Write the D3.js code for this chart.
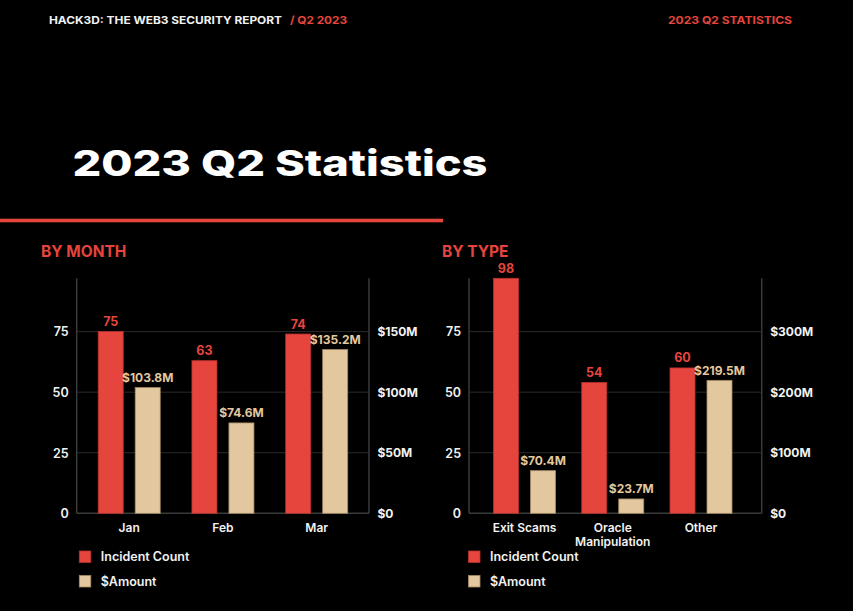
<!DOCTYPE html>
<html>
<head>
<meta charset="utf-8">
<script src="https://cdn.jsdelivr.net/npm/d3@7"></script>
<style>
  html, body { margin: 0; padding: 0; background: #000; }
  svg { display: block; font-family: Inter, "Noto Sans", sans-serif; }
</style>
</head>
<body>
<svg id="chart" width="853" height="611"></svg>
<script>
// ---------- data ----------
const monthCategories = ["Jan", "Feb", "Mar"];
const monthIncidents = [75, 63, 74];
const monthAmounts = [103.8, 74.6, 135.2]; // $M

const typeCategories = [["Exit Scams"], ["Oracle", "Manipulation"], ["Other"]];
const typeIncidents = [98, 54, 60];
const typeAmounts = [70.4, 23.7, 219.5]; // $M

const countTicks = [0, 25, 50, 75];
const monthAmountTicks = [0, 50, 100, 150];
const typeAmountTicks = [0, 100, 200, 300];

const seriesNames = ["Incident Count", "$Amount"];

// ---------- styles ----------
const RED = "#E5453D", RED_STROKE = "#B8322C";
const TAN = "#E3C89F", TAN_STROKE = "#A48A62";
const WHITE = "#F2F2F2";

const svg = d3.select("#chart");
svg.append("rect").attr("width", 853).attr("height", 611).attr("fill", "#000");

// header
svg.append("text").attr("x", 49).attr("y", 24.3)
  .attr("fill", WHITE).attr("font-size", 10.8).attr("font-weight", 700)
  .attr("textLength", 233).attr("lengthAdjust", "spacingAndGlyphs")
  .text("HACK3D: THE WEB3 SECURITY REPORT");
svg.append("text").attr("x", 290).attr("y", 24.3)
  .attr("fill", RED).attr("font-size", 10.8).attr("font-weight", 700)
  .attr("textLength", 57).attr("lengthAdjust", "spacingAndGlyphs")
  .text("/ Q2 2023");
svg.append("text").attr("x", 668).attr("y", 24.3)
  .attr("fill", RED).attr("font-size", 10.8).attr("font-weight", 700)
  .attr("textLength", 124).attr("lengthAdjust", "spacingAndGlyphs")
  .text("2023 Q2 STATISTICS");

// title
svg.append("text").attr("x", 72.5).attr("y", 175.7)
  .attr("fill", "#FFFFFF").attr("font-size", 35.5).attr("font-weight", 800)
  .attr("textLength", 415).attr("lengthAdjust", "spacingAndGlyphs")
  .text("2023 Q2 Statistics");
svg.append("rect").attr("x", 0).attr("y", 218.7).attr("width", 443).attr("height", 3.6).attr("fill", RED);

function drawChart(opt) {
  const g = svg.append("g");
  const top = 278.3, bottom = 513.3;
  const yCount = d3.scaleLinear().domain([0, 97]).range([bottom, top]).clamp(true);
  const yAmt = d3.scaleLinear().domain([0, opt.amountMax]).range([bottom, top]).clamp(true);
  const x = d3.scalePoint().domain(d3.range(opt.categories.length))
    .range([opt.left + opt.insetL, opt.right - opt.insetR]);
  const sub = d3.scaleBand().domain([0, 1]).range([-31, 31]).paddingInner(0.324);

  // section title
  g.append("text").attr("x", opt.titleX).attr("y", 257)
    .attr("fill", RED).attr("font-size", 15.5).attr("font-weight", 700)
    .text(opt.title);

  // gridlines
  g.selectAll(".grid").data(countTicks.filter(d => d > 0)).join("line")
    .attr("x1", opt.left).attr("x2", opt.right)
    .attr("y1", d => yCount(d)).attr("y2", d => yCount(d))
    .attr("stroke", "#2a2a2a").attr("stroke-width", 1);

  // left axis
  const axL = g.append("g").attr("transform", `translate(${opt.left},0)`)
    .call(d3.axisLeft(yCount).tickValues(countTicks).tickSize(0).tickPadding(8));
  axL.select(".domain").attr("stroke", "#3a3a3a").attr("stroke-width", 1.5)
    .attr("d", `M0,${top}V${bottom}`);
  axL.selectAll("text").attr("fill", WHITE).attr("font-size", 12.5).attr("font-weight", 600)
    .attr("font-family", "Inter, sans-serif").attr("dy", "0.35em");

  // right axis
  const axR = g.append("g").attr("transform", `translate(${opt.right},0)`)
    .call(d3.axisRight(yAmt).tickValues(opt.amountTicks).tickSize(0).tickPadding(8.5)
      .tickFormat(d => d === 0 ? "$0" : `$${d}M`));
  axR.select(".domain").attr("stroke", "#3a3a3a").attr("stroke-width", 1.5)
    .attr("d", `M0,${top}V${bottom}`);
  axR.selectAll("text").attr("fill", WHITE).attr("font-size", 12).attr("font-weight", 700)
    .attr("font-family", "Inter, sans-serif").attr("dy", "0.35em");

  // baseline
  g.append("line").attr("x1", opt.left).attr("x2", opt.right)
    .attr("y1", bottom).attr("y2", bottom).attr("stroke", "#3a3a3a").attr("stroke-width", 1.5);

  // bars
  const data = opt.categories.map((c, i) => ({ i, c, count: opt.incidents[i], amt: opt.amounts[i] }));
  g.selectAll(".barC").data(data).join("rect")
    .attr("x", d => x(d.i) + sub(0)).attr("width", sub.bandwidth())
    .attr("y", d => yCount(d.count)).attr("height", d => bottom - yCount(d.count))
    .attr("fill", RED).attr("stroke", RED_STROKE).attr("stroke-width", 0.8);
  g.selectAll(".barA").data(data).join("rect")
    .attr("x", d => x(d.i) + sub(1)).attr("width", sub.bandwidth())
    .attr("y", d => yAmt(d.amt)).attr("height", d => bottom - yAmt(d.amt))
    .attr("fill", TAN).attr("stroke", TAN_STROKE).attr("stroke-width", 0.8);

  // value labels
  g.selectAll(".lblC").data(data).join("text")
    .attr("x", d => x(d.i) + sub(0) + sub.bandwidth() / 2)
    .attr("y", d => yCount(d.count) - 5.5)
    .attr("text-anchor", "middle").attr("fill", RED)
    .attr("font-size", 12.5).attr("font-weight", 700)
    .text(d => d.count);
  g.selectAll(".lblA").data(data).join("text")
    .attr("x", d => x(d.i) + sub(1) + sub.bandwidth() / 2)
    .attr("y", d => yAmt(d.amt) - 5.5)
    .attr("text-anchor", "middle").attr("fill", TAN)
    .attr("font-size", 12).attr("font-weight", 700)
    .text(d => `$${d.amt.toFixed(1)}M`);

  // category labels
  const cl = g.selectAll(".cat").data(data).join("text")
    .attr("x", d => x(d.i)).attr("y", 531.5)
    .attr("text-anchor", "middle").attr("fill", WHITE)
    .attr("font-size", 12).attr("font-weight", 600);
  cl.each(function (d) {
    const lines = Array.isArray(d.c) ? d.c : [d.c];
    d3.select(this).selectAll("tspan").data(lines).join("tspan")
      .attr("x", x(d.i)).attr("dy", (l, k) => k === 0 ? 0 : 14).text(l => l);
  });

  // legend
  const leg = g.selectAll(".leg").data(seriesNames).join("g")
    .attr("transform", (d, k) => `translate(${opt.legendX},${551 + k * 24.5})`);
  leg.append("rect").attr("width", 11.5).attr("height", 11.5)
    .attr("fill", (d, k) => k === 0 ? RED : TAN)
    .attr("stroke", (d, k) => k === 0 ? RED_STROKE : TAN_STROKE).attr("stroke-width", 0.8);
  leg.append("text").attr("x", 21.5).attr("y", 10.3)
    .attr("fill", WHITE).attr("font-size", 12.5).attr("font-weight", 600)
    .text(d => d);
}

drawChart({
  title: "BY MONTH", titleX: 41,
  categories: monthCategories, incidents: monthIncidents, amounts: monthAmounts,
  amountMax: 194, amountTicks: monthAmountTicks,
  left: 76.7, right: 369, insetL: 52.5, insetR: 52.3, legendX: 79.3
});
drawChart({
  title: "BY TYPE", titleX: 442,
  categories: typeCategories, incidents: typeIncidents, amounts: typeAmounts,
  amountMax: 388, amountTicks: typeAmountTicks,
  left: 469, right: 761.7, insetL: 55.5, insetR: 60.7, legendX: 468.5
});
</script>
</body>
</html>
